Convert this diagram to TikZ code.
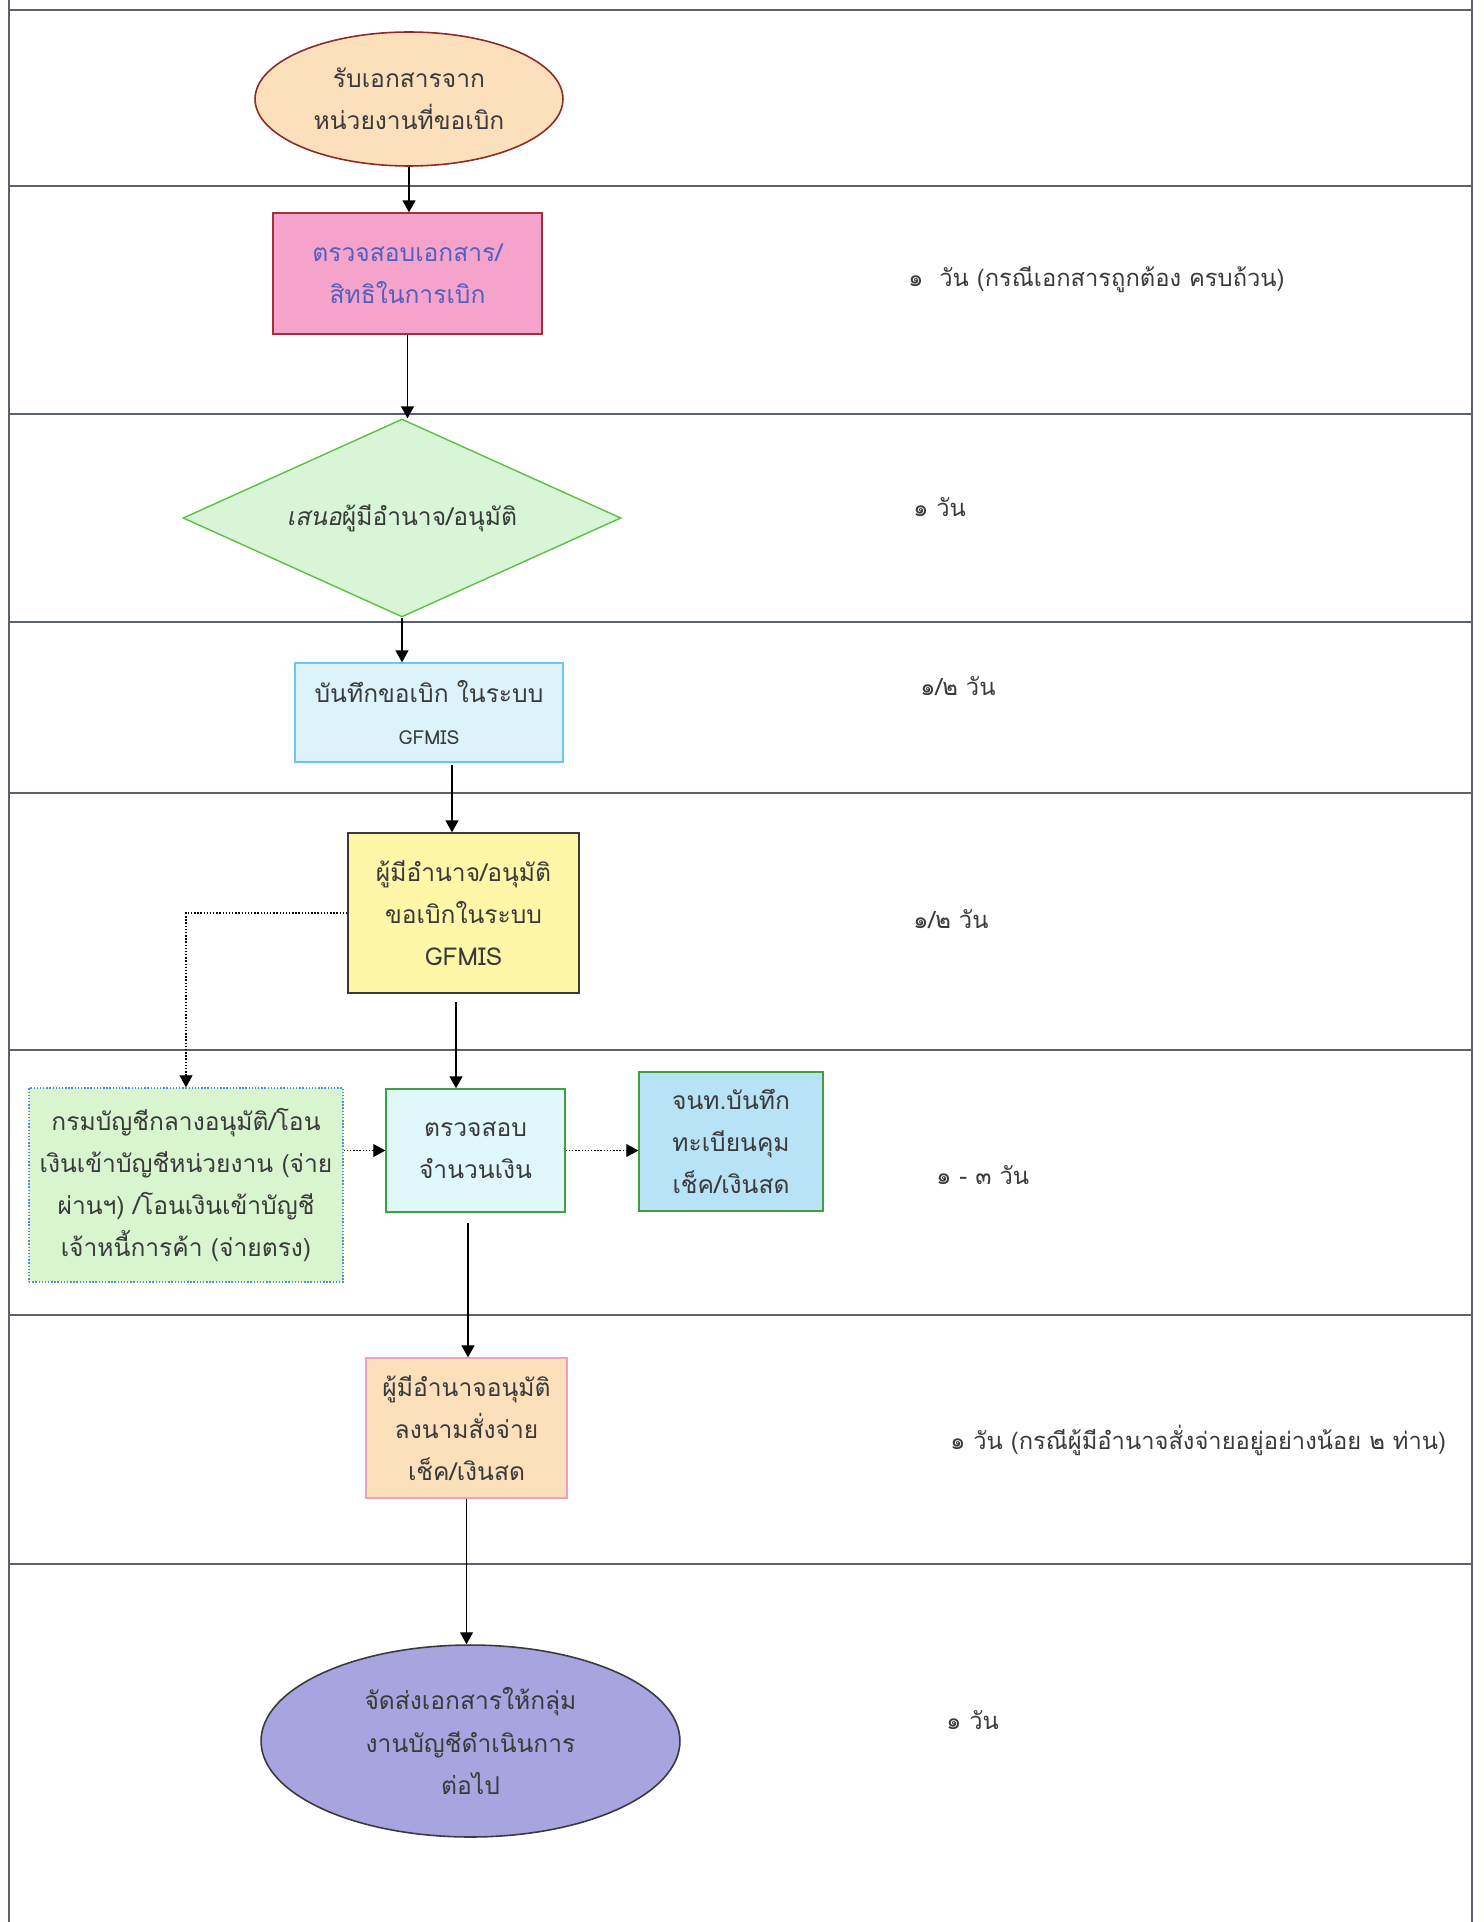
\documentclass[tikz,border=0pt]{standalone}
\usepackage{fontspec}
\setmainfont[Script=Thai]{Loma}
\newfontfamily\slantthai[Script=Thai,FakeSlant=0.2]{Loma}
\usetikzlibrary{shapes.geometric,arrows.meta}

\definecolor{framegray}{HTML}{5A6272}
\definecolor{textgray}{HTML}{3A3A3A}
\definecolor{recvfill}{HTML}{FCE0BC}
\definecolor{recvline}{HTML}{8B2A2A}
\definecolor{chkfill}{HTML}{F5A3CB}
\definecolor{chkline}{HTML}{A03040}
\definecolor{chktext}{HTML}{5060C0}
\definecolor{propfill}{HTML}{D8F5D8}
\definecolor{propline}{HTML}{5CC040}
\definecolor{recfill}{HTML}{DDF3FB}
\definecolor{recline}{HTML}{6AC8EE}
\definecolor{authfill}{HTML}{FFF7A8}
\definecolor{cgdfill}{HTML}{D8F5D0}
\definecolor{cgdline}{HTML}{5090E0}
\definecolor{verfill}{HTML}{E0F7FC}
\definecolor{boxgreen}{HTML}{40A040}
\definecolor{regfill}{HTML}{B8E2F5}
\definecolor{signline}{HTML}{F0A0C0}
\definecolor{sendfill}{HTML}{A8A4E0}

\begin{document}
\begin{tikzpicture}[x=0.02cm,y=-0.02cm,
    every node/.style={font=\fontsize{14}{24}\selectfont,text=textgray,align=center,inner sep=0pt},
    box/.style={draw,rectangle,line width=0.8pt},
    flow/.style={-{Triangle[length=2.4mm,width=2.6mm]},line width=0.8pt,black},
    dotflow/.style={flow,densely dotted,line width=0.6pt},
    frame/.style={framegray,line width=1.1pt},
    note/.style={anchor=west,font=\fontsize{13.5}{24}\selectfont}]
    \useasboundingbox (0,0) rectangle (1483,1922);
    % table frame
    \draw[frame] (9,0) to (9,1922);
    \draw[frame] (1472,0) to (1472,1922);
    \foreach \y in {10,186,414,622,793,1050,1315,1564} {
      \draw[frame] (9,\y) to (1472,\y);
    }
    % steps
    \node[ellipse,draw=recvline,fill=recvfill,line width=0.9pt,minimum width=6.16cm,minimum height=2.68cm] (recv) at (409,99) {รับเอกสารจาก\\หน่วยงานที่ขอเบิก};
    \node[box,draw=chkline,fill=chkfill,text=chktext,minimum width=5.38cm,minimum height=2.42cm] (chk) at (407.5,273.5) {ตรวจสอบเอกสาร/\\สิทธิในการเบิก};
    \node[diamond,shape aspect=2.21,draw=propline,fill=propfill,line width=0.8pt,minimum width=8.76cm,minimum height=3.96cm] (prop) at (402,518) {{\slantthai เสนอ}ผู้มีอำนาจ/อนุมัติ};
    \node[box,draw=recline,fill=recfill,minimum width=5.36cm,minimum height=1.98cm] (rec) at (429,712.5) {บันทึกขอเบิก ในระบบ\\{\fontsize{11}{20}\selectfont GFMIS}};
    \node[box,draw=textgray,fill=authfill,minimum width=4.62cm,minimum height=3.2cm] (auth) at (463.5,913) {ผู้มีอำนาจ/อนุมัติ\\ขอเบิกในระบบ\\GFMIS};
    \node[box,draw=cgdline,fill=cgdfill,densely dotted,minimum width=6.28cm,minimum height=3.88cm] (cgd) at (186,1185) {กรมบัญชีกลางอนุมัติ/โอน\\เงินเข้าบัญชีหน่วยงาน (จ่าย\\ผ่านฯ) /โอนเงินเข้าบัญชี\\เจ้าหนี้การค้า (จ่ายตรง)};
    \node[box,draw=boxgreen,fill=verfill,minimum width=3.58cm,minimum height=2.46cm] (ver) at (475.5,1150.5) {ตรวจสอบ\\จำนวนเงิน};
    \node[box,draw=boxgreen,fill=regfill,minimum width=3.68cm,minimum height=2.78cm] (reg) at (731,1141.5) {จนท.บันทึก\\ทะเบียนคุม\\เช็ค/เงินสด};
    \node[box,draw=signline,fill=recvfill,minimum width=4.02cm,minimum height=2.8cm] (sign) at (466.5,1428) {ผู้มีอำนาจอนุมัติ\\ลงนามสั่งจ่าย\\เช็ค/เงินสด};
    \node[ellipse,draw=textgray,fill=sendfill,line width=0.9pt,minimum width=8.38cm,minimum height=3.84cm] (send) at (470.5,1741) {จัดส่งเอกสารให้กลุ่ม\\งานบัญชีดำเนินการ\\ต่อไป};
    % time notes
    \node[note] (d1) at (908,280) {๑~ วัน (กรณีเอกสารถูกต้อง ครบถ้วน)};
    \node[note] (d2) at (913,507) {๑ วัน};
    \node[note] (d3) at (920,686) {๑/๒ วัน};
    \node[note] (d4) at (913,919) {๑/๒ วัน};
    \node[note] (d5) at (936,1175) {๑ - ๓ วัน};
    \node[note] (d6) at (950,1440) {๑ วัน (กรณีผู้มีอำนาจสั่งจ่ายอยู่อย่างน้อย ๒ ท่าน)};
    \node[note] (d7) at (946,1720) {๑ วัน};
    % arrows
    \coordinate (rtap) at (452,765);
    \coordinate (atap) at (456,1002);
    \coordinate (vtap) at (468,1223);
    \draw[flow] (recv.south) to (recv.south |- chk.north);
    \draw[flow] (chk.south) to (chk.south |- prop.north);
    \draw[flow] (prop.south) to (prop.south |- rec.north);
    \draw[flow] (rtap) to (rtap |- auth.north);
    \draw[flow] (atap) to (atap |- ver.north);
    \draw[dotflow] (auth.west) -| (cgd.north);
    \draw[dotflow] (cgd.east |- ver.west) to (ver.west);
    \draw[dotflow] (ver.east) to (ver.east -| reg.west);
    \draw[flow] (vtap) to (vtap |- sign.north);
    \draw[flow] (sign.south) to (sign.south |- send.north);
  \end{tikzpicture}
\end{document}
